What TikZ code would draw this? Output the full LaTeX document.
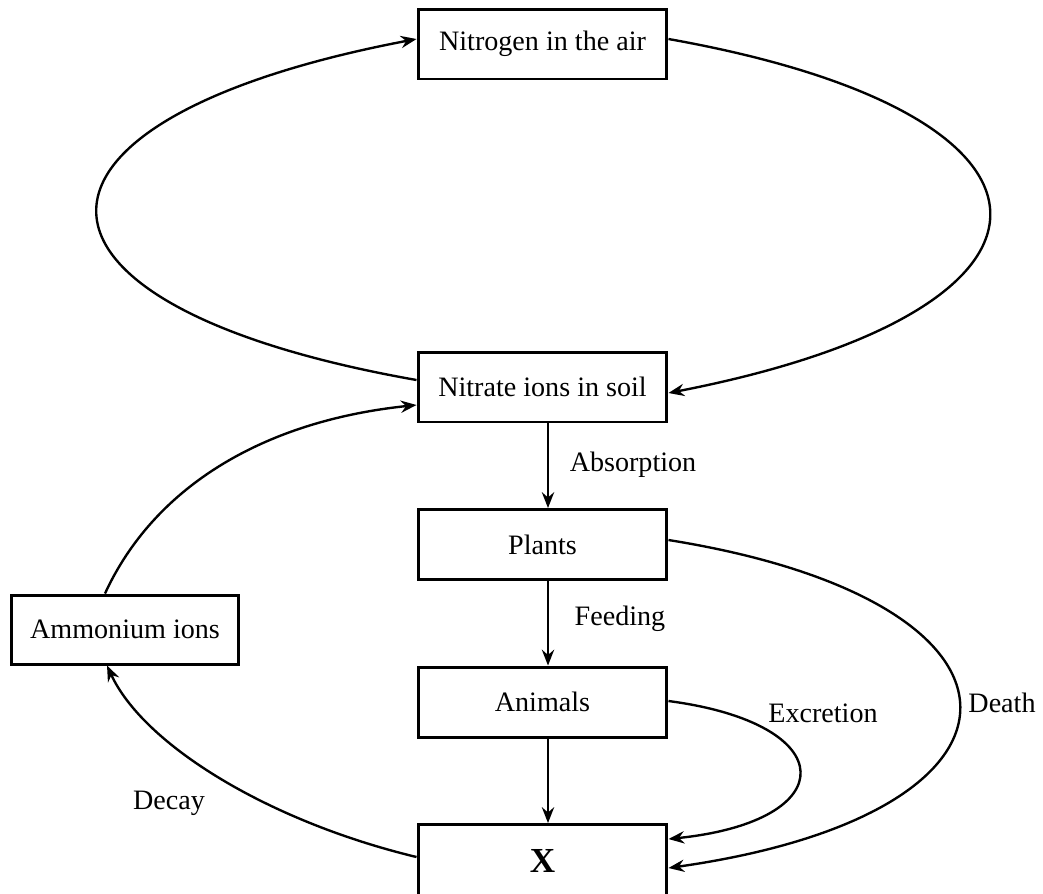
\documentclass[tikz,border=0pt]{standalone}
\usepackage{fontspec}
\setmainfont{Liberation Serif}
\usetikzlibrary{arrows.meta}
\begin{document}
\begin{tikzpicture}[x=0.02cm,y=-0.02cm,
  box/.style={draw, line width=1.7pt, minimum width=4.98cm, minimum height=1.4cm, inner sep=0pt, font=\fontsize{16}{19}\selectfont},
  conn/.style={line width=1.35pt, -{Stealth[length=9pt,width=7pt,inset=3pt]}},
  lab/.style={font=\fontsize{16}{19}\selectfont, inner sep=0pt}]
\useasboundingbox (0,0) rectangle (1043,893);
\node[box] (air) at (542.5,44) {Nitrogen in the air};
\node[box] (nitrate) at (542.5,387) {Nitrate ions in soil};
\node[box] (plants) at (542.5,544.5) {Plants};
\node[box] (animals) at (542.5,702) {Animals};
\node[box, minimum height=1.46cm, font=\fontsize{20}{24}\selectfont\bfseries] (x) at (542.5,861) {X};
\node[box, minimum width=4.56cm, minimum height=1.38cm] (amm) at (125,629.5) {Ammonium ions};
% left big loop
\draw[conn] ([yshift=0.14cm]nitrate.west) .. controls (-9,305) and (-9,120) .. ([yshift=0.1cm]air.west);
% right big loop
\draw[conn] ([yshift=0.1cm]air.east) .. controls (1096,115) and (1096,310) .. ([yshift=-0.12cm]nitrate.east);
% straight arrows
\draw[conn] ([xshift=0.11cm]nitrate.south) -- ([xshift=0.11cm]plants.north);
\draw[conn] ([xshift=0.11cm]plants.south) -- ([xshift=0.11cm]animals.north);
\draw[conn] ([xshift=0.11cm]animals.south) -- ([xshift=0.11cm]x.north);
% ammonium -> nitrate
\draw[conn] ([xshift=-0.4cm]amm.north) .. controls (154,487) and (263,421) .. ([yshift=-0.36cm]nitrate.west);
% decay
\draw[conn] ([yshift=0.08cm]x.west) .. controls (267,821) and (143,744) .. ([xshift=-0.36cm]amm.south);
% death
\draw[conn] ([yshift=0.09cm]plants.east) .. controls (1056,602) and (1056,813) .. ([yshift=-0.14cm]x.east);
% excretion
\draw[conn] ([yshift=0.02cm]animals.east) .. controls (843,724) and (843,821) .. ([yshift=0.44cm]x.east);
% labels
\node[lab] (labs) at (633,465) {Absorption};
\node[lab] (lfeed) at (620,619) {Feeding};
\node[lab] (lexc) at (823,713) {Excretion};
\node[lab] (ldeath) at (1002,703) {Death};
\node[lab] (ldecay) at (169,803) {Decay};
\end{tikzpicture}
\end{document}
